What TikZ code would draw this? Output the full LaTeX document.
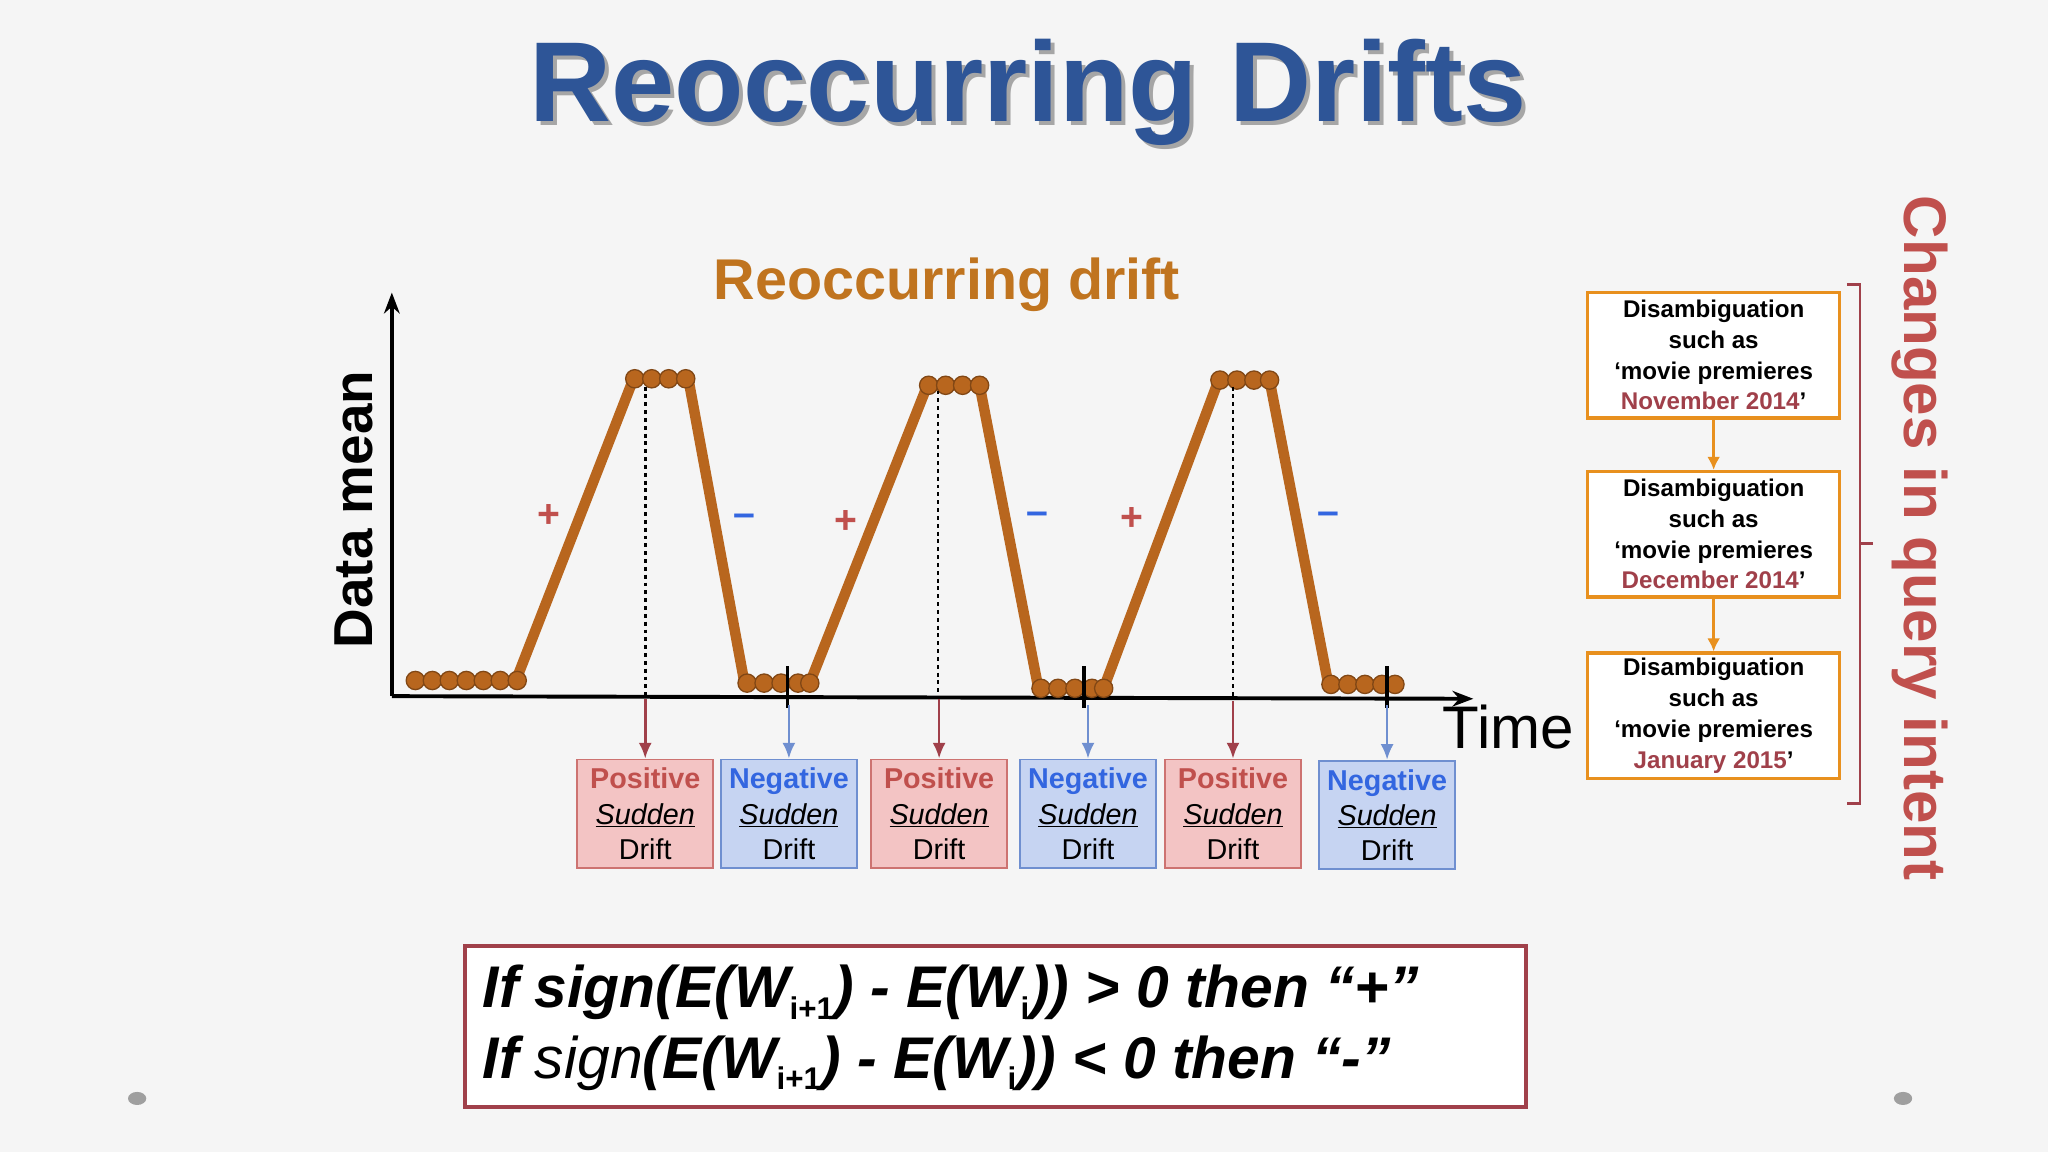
\documentclass[tikz,border=0pt]{standalone}
\usepackage{fontspec}
\setmainfont{Liberation Sans}
\usetikzlibrary{arrows.meta}
\definecolor{ttl}{HTML}{2E5597}
\definecolor{org}{HTML}{B8661E}
\definecolor{sub}{HTML}{C0741F}
\definecolor{pos}{HTML}{C0504D}
\definecolor{posb}{HTML}{F3C4C4}
\definecolor{neg}{HTML}{3366E0}
\definecolor{negb}{HTML}{C6D4F2}
\definecolor{negl}{HTML}{6F8FD0}
\definecolor{dred}{HTML}{A0404A}
\definecolor{ora}{HTML}{E8901E}
\newcommand{\sbs}[1]{\textsubscript{\normalfont\fontsize{24}{24}\selectfont\bfseries #1}}
\tikzset{
 dot/.style={circle,fill=org,draw=org!70!black,line width=1pt,inner sep=0,minimum size=14pt},
 pbox/.style={draw=pos!80,fill=posb,line width=1.5pt,minimum width=104pt,minimum height=83pt,align=center,font=\fontsize{22}{27}\selectfont},
 nbox/.style={draw=negl,fill=negb,line width=1.5pt,minimum width=104pt,minimum height=83pt,align=center,font=\fontsize{22}{27}\selectfont},
 qbox/.style={draw=ora,fill=white,line width=2.5pt,minimum width=193pt,minimum height=96pt,align=center,font=\bfseries\fontsize{18.5}{23.5}\selectfont},
 parr/.style={draw=dred,line width=2pt,-{Latex[length=12pt,width=10pt]}},
 narr/.style={draw=negl,line width=2pt,-{Latex[length=12pt,width=10pt]}},
}
\begin{document}
\begin{tikzpicture}[x=1pt,y=-1pt]
\fill[gray!8] (0,0) rectangle (1568,882);
\useasboundingbox (0,0) rectangle (1568,882);
% title
\node[font=\bfseries\fontsize{87}{87}\selectfont,text=black!35] (tsh) at (790,74) {Reoccurring Drifts};
\node[font=\bfseries\fontsize{87}{87}\selectfont,text=ttl] (title) at (787,71) {Reoccurring Drifts};
\node[font=\bfseries\fontsize{44}{44}\selectfont,text=sub] (subt) at (725,218) {Reoccurring drift};
% axes
\coordinate (o) at (300,533);
\coordinate (ytop) at (300,224);
\coordinate (xend) at (1128,535);
\draw[line width=3pt,-{Stealth[length=16pt,width=12pt]}] (o) -- (ytop);
\draw[line width=3pt,-{Stealth[length=16pt,width=12pt]}] (o) -- (xend);
\node[rotate=90,font=\bfseries\fontsize{42}{42}\selectfont] (dm) at (271,390) {Data mean};
\node[font=\fontsize{46}{46}\selectfont] (time) at (1155,557) {Time};
% curve
\draw[org,line width=8pt,line join=round] (315,521) -- (395,521) -- (485,290) -- (527,290) -- (570,523) -- (620,523) -- (710,295) -- (750,295) -- (795,527) -- (845,527) -- (933,291) -- (972,291) -- (1017,524) -- (1068,524);
\foreach \x in {318,331,344,357,370,383,396} \node[dot] at (\x,521) {};
\foreach \x in {486,499,512,525} \node[dot] at (\x,290) {};
\foreach \x in {572,585,598,611,620} \node[dot] at (\x,523) {};
\foreach \x in {711,724,737,750} \node[dot] at (\x,295) {};
\foreach \x in {797,810,823,836,845} \node[dot] at (\x,527) {};
\foreach \x in {934,947,960,972} \node[dot] at (\x,291) {};
\foreach \x in {1019,1032,1045,1058,1068} \node[dot] at (\x,524) {};
% dashed and ticks
\foreach \x/\y in {494/296,718/299,944/296} \draw[dashed,line width=2pt] (\x,\y) -- (\x,533);
\foreach \x in {603,830,1062} \draw[line width=2.5pt] (\x,510) -- (\x,542);
% signs
\foreach \x/\y in {420/395,648/400,867/397} \node[text=pos,font=\bfseries\fontsize{30}{30}\selectfont] at (\x,\y) {+};
\foreach \x/\y in {570/398,794/397,1017/397} \node[text=neg,font=\bfseries\fontsize{30}{30}\selectfont] at (\x,\y) {–};
% boxes
\node[pbox] (p1) at (494,623) {\textcolor{pos}{\bfseries Positive}\\\textit{\underline{Sudden}}\\Drift};
\node[nbox] (n1) at (604,623) {\textcolor{neg}{\bfseries Negative}\\\textit{\underline{Sudden}}\\Drift};
\node[pbox] (p2) at (719,623) {\textcolor{pos}{\bfseries Positive}\\\textit{\underline{Sudden}}\\Drift};
\node[nbox] (n2) at (833,623) {\textcolor{neg}{\bfseries Negative}\\\textit{\underline{Sudden}}\\Drift};
\node[pbox] (p3) at (944,623) {\textcolor{pos}{\bfseries Positive}\\\textit{\underline{Sudden}}\\Drift};
\node[nbox] (n3) at (1062,624) {\textcolor{neg}{\bfseries Negative}\\\textit{\underline{Sudden}}\\Drift};
\coordinate (a1) at (494,535); \coordinate (a2) at (604,540);
\coordinate (a3) at (719,535); \coordinate (a4) at (833,540);
\coordinate (a5) at (944,537); \coordinate (a6) at (1062,540);
\draw[parr] (a1) -- (p1.north); \draw[narr] (a2) -- (n1.north);
\draw[parr] (a3) -- (p2.north); \draw[narr] (a4) -- (n2.north);
\draw[parr] (a5) -- (p3.north); \draw[narr] (a6) -- (n3.north);
% right boxes
\node[qbox] (q1) at (1312,272) {Disambiguation\\such as\\‘movie premieres\\\textcolor{dred}{November 2014}’};
\node[qbox] (q2) at (1312,409) {Disambiguation\\such as\\‘movie premieres\\\textcolor{dred}{December 2014}’};
\node[qbox] (q3) at (1312,548) {Disambiguation\\such as\\‘movie premieres\\\textcolor{dred}{January 2015}’};
\draw[ora,line width=2pt,-{Latex[length=10pt,width=10pt]}] (q1) -- (q2);
\draw[ora,line width=2pt,-{Latex[length=10pt,width=10pt]}] (q2) -- (q3);
\draw[dred,line width=2pt] (1414,218) -- (1424,218) -- (1424,615) -- (1414,615);
\draw[dred,line width=2pt] (1424,416) -- (1434,416);
\node[rotate=-90,text=pos,font=\bfseries\fontsize{46}{46}\selectfont] (ch) at (1470,412) {Changes in query intent};
% formula box
\node[draw=dred,line width=3pt,fill=white,minimum width=812pt,minimum height=123pt] (fb) at (762,786) {};
\node[anchor=west,font=\bfseries\itshape\fontsize{45}{45}\selectfont] (l1) at (366,760) {If sign(E(W\sbs{i+1}) - E(W\sbs{i})) > 0 then “+”};
\node[anchor=west,font=\bfseries\itshape\fontsize{45}{45}\selectfont] (l2) at (366,814) {If \textmd{sign}(E(W\sbs{i+1}) - E(W\sbs{i})) < 0 then “-”};
% dots
\fill[gray!75] (105,841) ellipse (7 and 5);
\fill[gray!75] (1457,841) ellipse (7 and 5);
\end{tikzpicture}
\end{document}
